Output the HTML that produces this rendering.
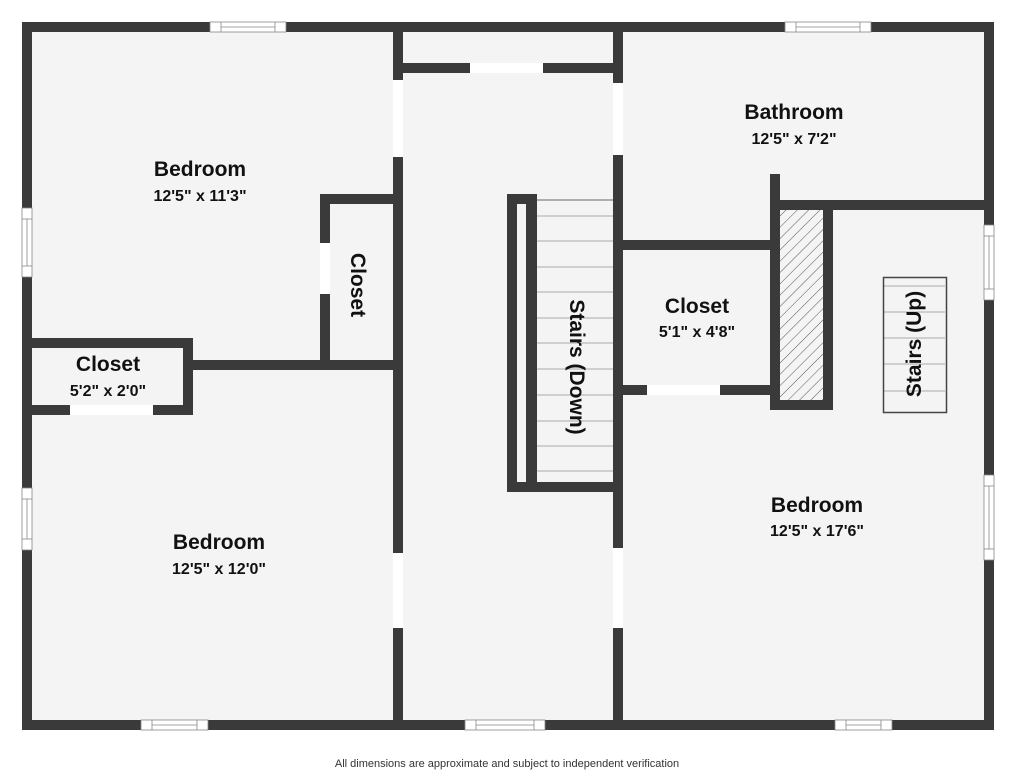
<!DOCTYPE html>
<html><head><meta charset="utf-8"><style>
html,body{margin:0;padding:0;background:#fff;}
svg{display:block;}
.t{font-family:"Liberation Sans","DejaVu Sans",sans-serif;font-weight:bold;fill:#111;text-anchor:middle;}
.n{font-size:21px;}
.d{font-size:16px;}
</style></head><body>
<svg width="1015" height="774" viewBox="0 0 1015 774" xmlns="http://www.w3.org/2000/svg">
<defs>
<pattern id="h" width="8" height="8" patternUnits="userSpaceOnUse" patternTransform="rotate(45)">
<rect width="8" height="8" fill="#f4f4f4"/><line x1="0" y1="0" x2="0" y2="8" stroke="#555" stroke-width="1"/>
</pattern>
</defs>
<rect x="22" y="22" width="972" height="708" fill="#f4f4f4"/>
<g fill="#3a3a3a">
<rect x="22" y="22" width="972" height="10"/>
<rect x="22" y="720" width="972" height="10"/>
<rect x="22" y="22" width="10" height="708"/>
<rect x="984" y="22" width="10" height="708"/>
<rect x="393" y="22" width="10" height="708"/>
<rect x="613" y="22" width="10" height="708"/>
<rect x="403" y="63" width="210" height="10"/>
<rect x="320" y="194" width="83" height="10"/>
<rect x="320" y="194" width="10" height="176"/>
<rect x="183" y="360" width="220" height="10"/>
<rect x="22" y="338" width="171" height="10"/>
<rect x="183" y="338" width="10" height="77"/>
<rect x="22" y="405" width="171" height="10"/>
<rect x="507" y="194" width="30" height="298"/>
<rect x="507" y="482" width="116" height="10"/>
<rect x="623" y="240" width="157" height="10"/>
<rect x="770" y="174" width="10" height="236"/>
<rect x="623" y="385" width="157" height="10"/>
<rect x="823" y="200" width="10" height="210"/>
<rect x="770" y="400" width="63" height="10"/>
<rect x="780" y="200" width="214" height="10"/>
</g>
<rect x="517" y="204" width="9" height="278" fill="#f4f4f4"/>
<rect x="780" y="210" width="43" height="190" fill="url(#h)"/>
<g fill="#fff">
<rect x="393" y="80" width="10" height="77"/>
<rect x="613" y="83" width="10" height="72"/>
<rect x="320" y="243" width="10" height="51"/>
<rect x="393" y="553" width="10" height="75"/>
<rect x="613" y="548" width="10" height="80"/>
<rect x="647" y="385" width="73" height="10"/>
<rect x="470" y="63" width="73" height="10"/>
<rect x="70" y="405" width="83" height="10"/>
</g>
<g fill="#fff" stroke="#888" stroke-width="0.8">
<rect x="210" y="22" width="76" height="10"/><line x1="221" y1="27" x2="275" y2="27"/><line x1="221" y1="22" x2="221" y2="32"/><line x1="275" y1="22" x2="275" y2="32"/>
<rect x="785" y="22" width="86" height="10"/><line x1="796" y1="27" x2="860" y2="27"/><line x1="796" y1="22" x2="796" y2="32"/><line x1="860" y1="22" x2="860" y2="32"/>
<rect x="141" y="720" width="67" height="10"/><line x1="152" y1="725" x2="197" y2="725"/><line x1="152" y1="720" x2="152" y2="730"/><line x1="197" y1="720" x2="197" y2="730"/>
<rect x="465" y="720" width="80" height="10"/><line x1="476" y1="725" x2="534" y2="725"/><line x1="476" y1="720" x2="476" y2="730"/><line x1="534" y1="720" x2="534" y2="730"/>
<rect x="835" y="720" width="57" height="10"/><line x1="846" y1="725" x2="881" y2="725"/><line x1="846" y1="720" x2="846" y2="730"/><line x1="881" y1="720" x2="881" y2="730"/>
<rect x="22" y="208" width="10" height="69"/><line x1="27" y1="219" x2="27" y2="266"/><line x1="22" y1="219" x2="32" y2="219"/><line x1="22" y1="266" x2="32" y2="266"/>
<rect x="22" y="488" width="10" height="62"/><line x1="27" y1="499" x2="27" y2="539"/><line x1="22" y1="499" x2="32" y2="499"/><line x1="22" y1="539" x2="32" y2="539"/>
<rect x="984" y="225" width="10" height="75"/><line x1="989" y1="236" x2="989" y2="289"/><line x1="984" y1="236" x2="994" y2="236"/><line x1="984" y1="289" x2="994" y2="289"/>
<rect x="984" y="475" width="10" height="85"/><line x1="989" y1="486" x2="989" y2="549"/><line x1="984" y1="486" x2="994" y2="486"/><line x1="984" y1="549" x2="994" y2="549"/>
</g>
<g stroke="#aaa" stroke-width="1">
<line x1="537" y1="200" x2="613" y2="200" stroke="#666"/>
<line x1="537" y1="216" x2="613" y2="216"/><line x1="537" y1="241" x2="613" y2="241"/>
<line x1="537" y1="267" x2="613" y2="267"/><line x1="537" y1="292" x2="613" y2="292"/>
<line x1="537" y1="318" x2="613" y2="318"/><line x1="537" y1="343" x2="613" y2="343"/>
<line x1="537" y1="369" x2="613" y2="369"/><line x1="537" y1="395" x2="613" y2="395"/>
<line x1="537" y1="421" x2="613" y2="421"/><line x1="537" y1="446" x2="613" y2="446"/>
<line x1="537" y1="471" x2="613" y2="471"/>
<line x1="884" y1="286" x2="945" y2="286"/><line x1="884" y1="312" x2="945" y2="312"/>
<line x1="884" y1="338" x2="945" y2="338"/><line x1="884" y1="364" x2="945" y2="364"/>
<line x1="884" y1="391" x2="945" y2="391"/>
</g>
<rect x="883.5" y="277.5" width="63" height="135" fill="none" stroke="#444" stroke-width="1.5"/>
<text class="t n" x="200" y="176">Bedroom</text>
<text class="t d" x="200" y="201">12'5" x 11'3"</text>
<text class="t n" x="108" y="371">Closet</text>
<text class="t d" x="108" y="396">5'2" x 2'0"</text>
<text class="t n" x="219" y="549">Bedroom</text>
<text class="t d" x="219" y="574">12'5" x 12'0"</text>
<text class="t n" x="794" y="119">Bathroom</text>
<text class="t d" x="794" y="144">12'5" x 7'2"</text>
<text class="t n" x="697" y="313">Closet</text>
<text class="t d" x="697" y="337">5'1" x 4'8"</text>
<text class="t n" x="817" y="512">Bedroom</text>
<text class="t d" x="817" y="536">12'5" x 17'6"</text>
<text class="t n" transform="translate(351,285) rotate(90)">Closet</text>
<text class="t n" transform="translate(570,367) rotate(90)">Stairs (Down)</text>
<text class="t n" transform="translate(921,344) rotate(-90)">Stairs (Up)</text>
<text x="507" y="767" font-family="Liberation Sans,sans-serif" font-size="11" fill="#333" text-anchor="middle">All dimensions are approximate and subject to independent verification</text>
</svg>
</body></html>
